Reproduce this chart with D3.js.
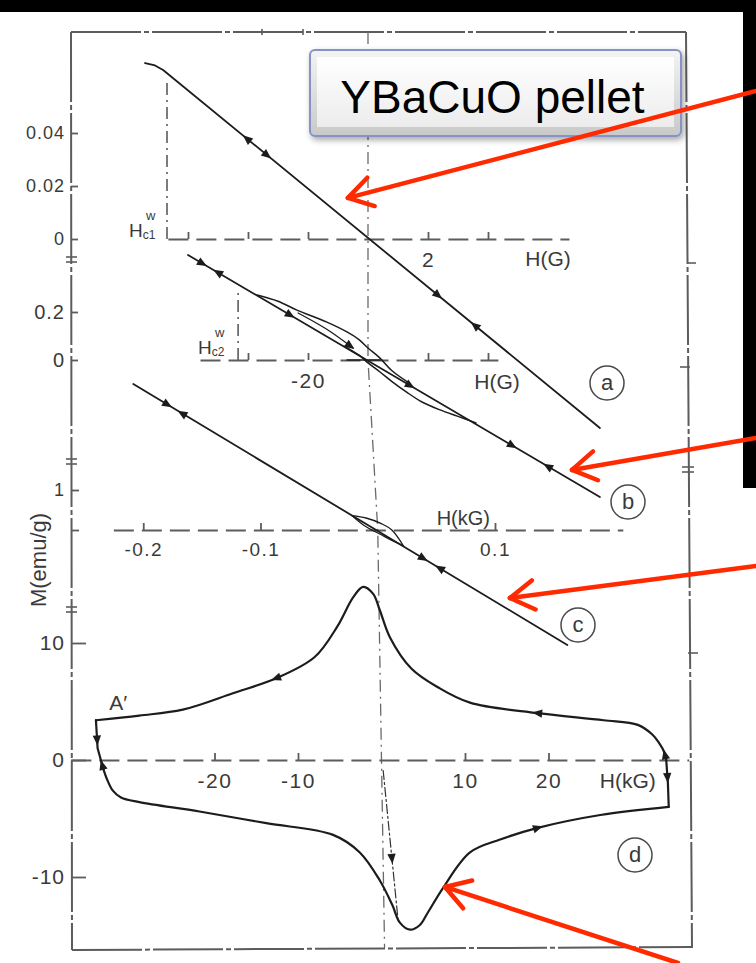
<!DOCTYPE html>
<html>
<head>
<meta charset="utf-8">
<script src="https://cdn.jsdelivr.net/npm/d3@7/dist/d3.min.js"></script>
<style>
  html, body { margin: 0; padding: 0; background: #fff; }
  svg { display: block; }
</style>
</head>
<body>
<script>
// ===== Panel (a): M (emu/g) against H (G), low-field sweep =====
const aCurve = [[-7.43, 0.0664], [-7.1, 0.0655], [-6.83, 0.0638], [7.73, -0.0713]];
const aArrows = [[-4.03, -1], [-3.37, 1], [2.33, 1], [3.57, -1]];
const aHc1 = [-6.7, 0.060];
const aTicksM = [0, 0.02, 0.04];
const aTickTextM = ["0", "0.02", "0.04"];
const aTicksH = [-6, -4, -2, 2, 4];
const aTickTextH = ["", "", "", "2", ""];
const aAxisH = [-6.67, 6.7];

// ===== Panel (b): M (emu/g) against H (G), wider sweep with a small loop =====
const bMain = [[-60, 0.4375], [77.3, -0.571]];
const bUpper = [[-37, 0.271], [-30, 0.245], [-23.7, 0.208], [-13.7, 0.158], [-7, 0.117],
                [-3, 0.085], [0, 0.05], [4, 0.008], [8, -0.045], [14, -0.098]];
const bLower = [[-8, 0.058], [-3, 0.02], [0, -0.012], [4, -0.05], [8, -0.09], [13, -0.135],
                [18, -0.175], [24, -0.208], [30, -0.235], [36, -0.262]];
const bInner = [[-23.3, 0.196], [-14, 0.13], [-5, 0.05]];
const bFlat = [[-7, 0], [4, 0]];
const bArrows = [["main", -55.3, 1], ["main", -50, -1], ["main", -26, 1], ["inner", -6, 1],
                 ["main", 14, 1], ["main", 48, 1], ["main", 60, -1]];
const bHc2 = [-43.3, 0.29];
const bTicksM = [0, 0.2];
const bTickTextM = ["0", "0.2"];
const bTicksH = [-40, -20, 20, 40];
const bTickTextH = ["", "-20", "", ""];
const bAxisH = [-56, 43.3];

// ===== Panel (c): M (emu/g) against H (kG) =====
const cLine = [[-0.2085, 3.65], [0.1617, -2.875]];
const cLensUpper = [[-0.022, 0.36], [-0.01, 0.3], [0.003, 0.16], [0.012, 0.0], [0.022, -0.4]];
const cLensLower = [[-0.022, 0.36], [-0.012, 0.12], [0.003, -0.12], [0.012, -0.26], [0.022, -0.4]];
const cArrows = [[-0.1795, 1], [-0.1667, -1], [0.0386, 1], [0.053, -1]];
const cTicksM = [0, 1];
const cTickTextM = ["", "1"];
const cTicksH = [-0.2, -0.1, 0.1];
const cTickTextH = ["-0.2", "-0.1", "0.1"];
const cAxisH = [-0.2255, 0.209];

// ===== Panel (d): full hysteresis loop, M (emu/g) against H (kG) =====
const dUpper = [[34.1, 0], [33.9, 0.6], [33.2, 1.5], [32.4, 2.2], [30.7, 3.0], [26.6, 3.4],
                [18.7, 4.0], [10.6, 4.9], [6.8, 6.2], [3.6, 7.8], [1.0, 10.5], [-0.2, 12.8],
                [-1.0, 14.2], [-2.2, 14.8], [-3.4, 13.9], [-5.3, 11.4], [-8.0, 8.8],
                [-12.4, 7.05], [-17.8, 5.7], [-23.8, 4.3], [-29.0, 3.8], [-34.2, 3.4]];
const dDrop = [[-34.2, 3.4], [-34.0, 1.0], [-33.3, -0.8]];
const dLower = [[-33.3, -0.8], [-32.9, -1.6], [-32.2, -2.6], [-31.2, -3.2], [-29.0, -3.6],
                [-21.8, -4.4], [-13.8, -5.4], [-5.8, -6.4], [-2.6, -7.9], [-0.2, -10.3],
                [1.3, -12.4], [2.2, -13.9], [3.4, -14.5], [4.6, -14.1], [5.5, -13.1],
                [7.4, -10.9], [10.6, -7.9], [14.2, -6.8], [18.7, -5.8], [26.2, -4.7], [34.4, -4.0]];
const dRise = [[34.4, -4.0], [34.3, -2.0], [34.1, 0]];
const dJump = [[0.2, -0.9], [2.0, -13.8]];
const dArrows = [["upper", 0, -12.6, -1], ["upper", 0, 18.7, -1], ["upper", 1, 0.45, 1],
                 ["rise", 1, -1.5, -1], ["drop", 1, 1.7, -1], ["drop", 1, -0.45, 1],
                 ["lower", 0, 18.7, 1], ["jump", 1, -8.4, -1]];
const dTicksM = [-10, 0, 10];
const dTickTextM = ["-10", "0", "10"];
const dTicksH = [-20, -10, 10, 20];
const dTickTextH = ["-20", "-10", "10", "20"];
const dAxisH = [-37.2, 36.8];

// Red call-outs: tip given in panel units, tail at the page edge
const callouts = [
  { panel: "a", H: -0.67, M: 0.0155, tail: [756, 91] },
  { panel: "b", H: 68, M: -0.458, tail: [756, 438] },
  { panel: "c", H: 0.1128, M: -1.7, tail: [756, 566] },
  { panel: "d", H: 7.6, M: -10.85, tail: [678, 963] }
];

// ---------------------------------------------------------------
const W = 756, HGT = 963;
const FONT = "'Liberation Sans', Arial, sans-serif";
const INK = "#1c1c1c", GREY = "#5c5c5c", TXT = "#3a3a3a";

const svg = d3.select("body").append("svg").attr("width", W).attr("height", HGT);
const defs = svg.append("defs");

svg.append("rect").attr("width", W).attr("height", HGT).attr("fill", "#fff");

// per-panel scales
const sc = {
  a: { x: d3.scaleLinear().domain([0, 2]).range([368, 428]),
       y: d3.scaleLinear().domain([0, 0.04]).range([239, 133]) },
  b: { x: d3.scaleLinear().domain([-20, 0]).range([308, 368]),
       y: d3.scaleLinear().domain([0, 0.2]).range([360, 312]) },
  c: { x: d3.scaleLinear().domain([-0.1, 0.1]).range([260.5, 495]),
       y: d3.scaleLinear().domain([0, 1]).range([530, 490]) },
  d: { x: d3.scaleLinear().domain([-10, 10]).range([298, 465]),
       y: d3.scaleLinear().domain([-10, 10]).range([877, 643]) }
};

const frame = { left: 71, top: 32, right: 686, bottom: 950 };

// ---- frame (scanned, slightly broken dash-dot border)
const frameG = svg.append("g").attr("stroke", GREY).attr("stroke-width", 2).attr("fill", "none")
  .attr("stroke-dasharray", "70,3,5,3");
frameG.append("line").attr("x1", frame.left).attr("y1", frame.top).attr("x2", frame.left + 1).attr("y2", frame.bottom);
frameG.append("line").attr("x1", frame.left).attr("y1", frame.top).attr("x2", frame.right).attr("y2", frame.top);
frameG.append("line").attr("x1", frame.right).attr("y1", frame.top).attr("x2", frame.right + 6).attr("y2", frame.bottom - 2);
frameG.append("line").attr("x1", frame.left + 1).attr("y1", frame.bottom).attr("x2", frame.right + 6).attr("y2", frame.bottom - 3);

// break marks and stray ticks on the frame
const markG = svg.append("g").attr("stroke", GREY).attr("stroke-width", 1.6);
[260, 462, 610].forEach(y => {
  markG.append("line").attr("x1", frame.left - 5).attr("x2", frame.left + 6).attr("y1", y - 3).attr("y2", y - 3);
  markG.append("line").attr("x1", frame.left - 5).attr("x2", frame.left + 6).attr("y1", y + 2).attr("y2", y + 2);
});
[470].forEach(y => {
  markG.append("line").attr("x1", frame.right - 4).attr("x2", frame.right + 8).attr("y1", y - 3).attr("y2", y - 3);
  markG.append("line").attr("x1", frame.right - 4).attr("x2", frame.right + 8).attr("y1", y + 2).attr("y2", y + 2);
});
[[263, 2, 10], [367, -6, 4], [653, 2, 12]].forEach(([y, a, b]) => {
  markG.append("line").attr("x1", frame.right + a).attr("x2", frame.right + b).attr("y1", y).attr("y2", y);
});
[262, 303].forEach(x => {
  markG.append("line").attr("x1", x).attr("x2", x).attr("y1", frame.top - 3).attr("y2", frame.top + 3);
});

// ---- H = 0 dash-dot reference running through all panels
const zeroPts = ["a", "b", "c", "d"].map(k => [sc[k].x(0), sc[k].y(0)]);
const slopeBottom = (zeroPts[3][0] - zeroPts[2][0]) / (zeroPts[3][1] - zeroPts[2][1]);
const refLine = [[zeroPts[0][0], frame.top], ...zeroPts,
  [zeroPts[3][0] + slopeBottom * (frame.bottom - 2 - zeroPts[3][1]), frame.bottom - 2]];
svg.append("path").attr("d", d3.line()(refLine)).attr("fill", "none")
  .attr("stroke", "#6a6a6a").attr("stroke-width", 1.3).attr("stroke-dasharray", "12,5,2,5");

// ---- helpers
function styleText(sel, size) {
  sel.attr("font-family", FONT).attr("font-size", size).attr("fill", TXT).attr("stroke", "none");
}

function hAxis(k, ext, ticks, texts, size) {
  const s = sc[k].x;
  const axScale = s.copy().domain(ext).range(ext.map(s));
  const g = svg.append("g").attr("transform", `translate(0,${sc[k].y(0)})`)
    .call(d3.axisBottom(axScale).tickValues(ticks)
      .tickFormat((d, i) => texts[i]).tickSizeInner(-7).tickSizeOuter(0).tickPadding(13));
  g.select(".domain").attr("stroke", GREY).attr("stroke-width", 2).attr("stroke-dasharray", "20,8");
  g.selectAll(".tick line").attr("stroke", GREY).attr("stroke-width", 1.8);
  g.selectAll(".tick text").call(styleText, size).attr("letter-spacing", 1.5);
  return g;
}

function vAxis(k, ticks, texts, size, len) {
  const g = svg.append("g").attr("transform", `translate(${frame.left},0)`)
    .call(d3.axisLeft(sc[k].y).tickValues(ticks).tickFormat((d, i) => texts[i])
      .tickSizeInner(-len).tickSizeOuter(0).tickPadding(6));
  g.select(".domain").remove();
  g.selectAll(".tick line").attr("stroke", GREY).attr("stroke-width", 1.8);
  g.selectAll(".tick text").call(styleText, size).attr("letter-spacing", 1);
  return g;
}

function curve(k, pts, opts = {}) {
  const gen = d3.line().x(d => sc[k].x(d[0])).y(d => sc[k].y(d[1]));
  if (opts.smooth) gen.curve(d3.curveCatmullRom.alpha(0.5));
  return svg.append("path").attr("d", gen(pts)).attr("fill", "none")
    .attr("stroke", opts.color || INK).attr("stroke-width", opts.width || 1.8)
    .attr("stroke-linejoin", "round").attr("stroke-linecap", "round")
    .attr("stroke-dasharray", opts.dash || null);
}

// direction marker on a polyline, located by H (key 0) or M (key 1)
function marker(k, pts, key, value, sign) {
  const sx = sc[k].x, sy = sc[k].y;
  for (let i = 0; i < pts.length - 1; i++) {
    const p = pts[i], q = pts[i + 1];
    const lo = Math.min(p[key], q[key]), hi = Math.max(p[key], q[key]);
    if (hi > lo && value >= lo && value <= hi) {
      const t = (value - p[key]) / (q[key] - p[key]);
      const H = p[0] + t * (q[0] - p[0]), M = p[1] + t * (q[1] - p[1]);
      let vx = sx(q[0]) - sx(p[0]), vy = sy(q[1]) - sy(p[1]);
      if (q[key] < p[key]) { vx = -vx; vy = -vy; }
      const ang = Math.atan2(vy, vx) * 180 / Math.PI + (sign < 0 ? 180 : 0);
      svg.append("path").attr("d", "M5.5,0L-4.5,-4.2L-4.5,4.2Z").attr("fill", INK)
        .attr("transform", `translate(${sx(H)},${sy(M)}) rotate(${ang})`);
      return;
    }
  }
}

function dashedDrop(k, pt) {
  svg.append("line").attr("x1", sc[k].x(pt[0])).attr("x2", sc[k].x(pt[0]))
    .attr("y1", sc[k].y(0)).attr("y2", sc[k].y(pt[1]))
    .attr("stroke", GREY).attr("stroke-width", 1.6).attr("stroke-dasharray", "12,5,2,5");
}

function hcLabel(x, y, sub) {
  const t = svg.append("text").attr("x", x).attr("y", y).call(styleText, 19);
  t.append("tspan").text("H");
  t.append("tspan").attr("font-size", 12).attr("dy", 2).text(sub);
  svg.append("text").attr("x", x + 17).attr("y", y - 17).call(styleText, 13).text("w");
}

function circled(x, y, letter) {
  svg.append("circle").attr("cx", x).attr("cy", y).attr("r", 17)
    .attr("fill", "none").attr("stroke", "#4a4a4a").attr("stroke-width", 1.5);
  svg.append("text").attr("x", x).attr("y", y + 7).attr("text-anchor", "middle")
    .call(styleText, 22).text(letter);
}

// ===== panel (a)
hAxis("a", aAxisH, aTicksH, aTickTextH, 21);
vAxis("a", aTicksM, aTickTextM, 18, 7);
dashedDrop("a", aHc1);
curve("a", aCurve);
aArrows.forEach(([h, s]) => marker("a", aCurve, 0, h, s));
hcLabel(sc.a.x(aHc1[0]) - 38, sc.a.y(0) - 2, "c1");
svg.append("text").attr("x", sc.a.x(6)).attr("y", sc.a.y(0) + 27).attr("text-anchor", "middle")
  .call(styleText, 21).text("H(G)");
circled(607, 383, "a");

// ===== panel (b)
hAxis("b", bAxisH, bTicksH, bTickTextH, 21);
vAxis("b", bTicksM, bTickTextM, 20, 7);
dashedDrop("b", bHc2);
curve("b", bMain);
curve("b", bUpper, { smooth: true, width: 1.5 });
curve("b", bLower, { smooth: true, width: 1.5 });
curve("b", bInner, { smooth: true, width: 1.3 });
curve("b", bFlat, { width: 1.5 });
const bSets = { main: bMain, inner: bInner };
bArrows.forEach(([set, h, s]) => marker("b", bSets[set], 0, h, s));
hcLabel(sc.b.x(bHc2[0]) - 40, sc.b.y(0) - 6, "c2");
svg.append("text").attr("x", sc.b.x(43)).attr("y", sc.b.y(0) + 29).attr("text-anchor", "middle")
  .call(styleText, 21).text("H(G)");
circled(628, 502, "b");

// ===== panel (c)
hAxis("c", cAxisH, cTicksH, cTickTextH, 19);
vAxis("c", cTicksM, cTickTextM, 18, 8);
curve("c", cLine);
curve("c", cLensUpper, { smooth: true, width: 1.3 });
curve("c", cLensLower, { smooth: true, width: 1.3 });
cArrows.forEach(([h, s]) => marker("c", cLine, 0, h, s));
svg.append("text").attr("x", sc.c.x(0.073)).attr("y", sc.c.y(0) - 5).attr("text-anchor", "middle")
  .call(styleText, 20).text("H(kG)");
circled(578, 625, "c");

// ===== panel (d)
hAxis("d", dAxisH, dTicksH, dTickTextH, 21);
vAxis("d", dTicksM, dTickTextM, 21, 15);
curve("d", dJump, { width: 1.2, dash: "9,3,2,3", color: "#333" });
curve("d", dUpper, { smooth: true, width: 2.2 });
curve("d", dDrop, { width: 2.2 });
curve("d", dLower, { smooth: true, width: 2.2 });
curve("d", dRise, { width: 2.2 });
const dSets = { upper: dUpper, lower: dLower, drop: dDrop, rise: dRise, jump: dJump };
dArrows.forEach(([set, key, v, s]) => marker("d", dSets[set], key, v, s));
svg.append("text").attr("x", sc.d.x(29.5)).attr("y", sc.d.y(0) + 28).attr("text-anchor", "middle")
  .call(styleText, 21).text("H(kG)");
svg.append("text").attr("x", sc.d.x(-32.6)).attr("y", sc.d.y(4.3)).call(styleText, 21).text("A\u2032");
circled(635, 855, "d");

// y-axis title
svg.append("text").attr("transform", "translate(46,560) rotate(-90)").attr("text-anchor", "middle")
  .call(styleText, 22).text("M(emu/g)");

// ===== black page margins
svg.append("rect").attr("x", 0).attr("y", 0).attr("width", W).attr("height", 12).attr("fill", "#000");
svg.append("rect").attr("x", 743).attr("y", 0).attr("width", W - 743).attr("height", 488).attr("fill", "#000");

// ===== title box
const grad = defs.append("linearGradient").attr("id", "boxFill").attr("x1", 0).attr("y1", 0).attr("x2", 0).attr("y2", 1);
grad.append("stop").attr("offset", "0%").attr("stop-color", "#ffffff");
grad.append("stop").attr("offset", "100%").attr("stop-color", "#ececec");
const bevel = defs.append("linearGradient").attr("id", "boxBevel").attr("x1", 0).attr("y1", 0).attr("x2", 0).attr("y2", 1);
bevel.append("stop").attr("offset", "0%").attr("stop-color", "#f4f4f4");
bevel.append("stop").attr("offset", "100%").attr("stop-color", "#c9c9c9");
const shadow = defs.append("filter").attr("id", "boxShadow").attr("x", "-10%").attr("y", "-20%")
  .attr("width", "125%").attr("height", "150%");
shadow.append("feDropShadow").attr("dx", 2).attr("dy", 3).attr("stdDeviation", 3)
  .attr("flood-color", "#000").attr("flood-opacity", 0.35);

const box = { x: 310, y: 50, w: 371, h: 86 };
svg.append("rect").attr("x", box.x).attr("y", box.y).attr("width", box.w).attr("height", box.h)
  .attr("rx", 5).attr("fill", "url(#boxBevel)").attr("stroke", "#8593c6").attr("stroke-width", 2)
  .attr("filter", "url(#boxShadow)");
svg.append("rect").attr("x", box.x + 7).attr("y", box.y + 7).attr("width", box.w - 14).attr("height", box.h - 16)
  .attr("fill", "url(#boxFill)");
svg.append("text").attr("x", box.x + box.w / 2 - 3).attr("y", box.y + 63).attr("text-anchor", "middle")
  .attr("font-family", FONT).attr("font-size", 46).attr("fill", "#000").text("YBaCuO pellet");

// ===== red call-out arrows
const RED = "#ff2a00";
callouts.forEach(c => {
  const tip = [sc[c.panel].x(c.H), sc[c.panel].y(c.M)];
  const ang = Math.atan2(c.tail[1] - tip[1], c.tail[0] - tip[0]);
  const g = svg.append("g").attr("stroke", RED).attr("stroke-width", 4.5)
    .attr("stroke-linecap", "round").attr("fill", "none");
  g.append("line").attr("x1", tip[0]).attr("y1", tip[1]).attr("x2", c.tail[0]).attr("y2", c.tail[1]);
  [-0.55, 0.55].forEach(da => {
    g.append("line").attr("x1", tip[0]).attr("y1", tip[1])
      .attr("x2", tip[0] + 28 * Math.cos(ang + da)).attr("y2", tip[1] + 28 * Math.sin(ang + da));
  });
});
</script>
</body>
</html>
